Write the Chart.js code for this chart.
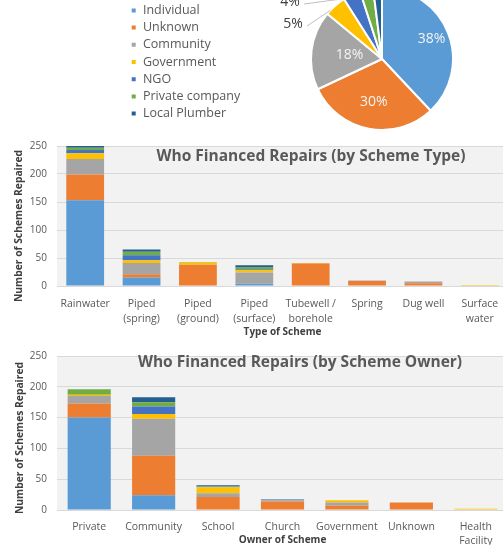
<!DOCTYPE html>
<html>
<head>
<meta charset="utf-8">
<script src="https://cdn.jsdelivr.net/npm/chart.js@4.4.1/dist/chart.umd.min.js"></script>
<style>
  html, body { margin: 0; padding: 0; background: #fff; }
  body { width: 503px; height: 545px; overflow: hidden; position: relative; }
  canvas { position: absolute; left: 0; }
  #pieChart { top: -12px; }
  #typeChart { top: 130px; }
  #ownerChart { top: 340px; }
</style>
</head>
<body>
<canvas id="pieChart" width="516" height="142"></canvas>
<canvas id="typeChart" width="508" height="212"></canvas>
<canvas id="ownerChart" width="508" height="212"></canvas>
<script>
// who paid, same order in every chart (bottom of stack first)
const funders = ['Individual', 'Unknown', 'Community', 'Government', 'NGO', 'Private company', 'Local Plumber'];
const funderColors = ['#5B9BD5', '#ED7D31', '#A5A5A5', '#FFC000', '#4472C4', '#70AD47', '#255E91'];
const funderShare = [38, 30, 18, 5, 4, 3, 2];

const countTicks = [0, 50, 100, 150, 200, 250];

// by scheme type
const schemeTypes = ['Rainwater', ['Piped', '(spring)'], ['Piped', '(ground)'], ['Piped', '(surface)'],
  ['Tubewell /', 'borehole'], 'Spring', 'Dug well', ['Surface', 'water']];
const typeIndividual = [153, 15, 0, 4, 0, 0, 0, 0];
const typeUnknown    = [46, 6, 38, 0, 40, 9, 5, 0];
const typeCommunity  = [28, 20, 0, 20, 0, 1, 3, 0];
const typeGovernment = [10, 5, 4, 4, 1, 0, 0, 2];
const typeNGO        = [6, 9, 0, 2, 0, 0, 0, 0];
const typePrivate    = [4, 6, 1, 4, 0, 0, 0, 0];
const typePlumber    = [3, 4, 0, 3, 0, 0, 0, 0];

// by scheme owner
const schemeOwners = ['Private', 'Community', 'School', 'Church', 'Government', 'Unknown', ['Health', 'Facility']];
const ownerIndividual = [150, 24, 0, 0, 0, 0, 0];
const ownerUnknown    = [23, 64, 21, 14, 7, 12, 0];
const ownerCommunity  = [12, 60, 6, 2, 5, 0, 0];
const ownerGovernment = [2, 8, 10, 0, 4, 0, 2];
const ownerNGO        = [0, 12, 1, 0, 0, 0, 0];
const ownerPrivate    = [9, 7, 1, 0, 0, 0, 0];
const ownerPlumber    = [0, 8, 1, 1, 0, 0, 0];

const FONT = "'Open Sans', sans-serif";
const GREY_TEXT = '#595959';

// grey fill behind the plot area
const plotBackground = {
  id: 'plotBackground',
  beforeDraw(chart, args, opts) {
    const { ctx, chartArea: a } = chart;
    ctx.save();
    ctx.fillStyle = opts.color;
    ctx.fillRect(a.left, a.top, a.width, a.height);
    ctx.restore();
  }
};

// chart title sitting inside the plot + rotated y title
const overlayText = {
  id: 'overlayText',
  afterDraw(chart, args, opts) {
    const { ctx } = chart;
    ctx.save();
    ctx.fillStyle = GREY_TEXT;
    ctx.textAlign = 'center';
    ctx.textBaseline = 'middle';
    ctx.font = 'bold 15.5px ' + FONT;
    ctx.fillText(opts.title, opts.titleX, opts.titleY);
    ctx.translate(opts.yTitleX, opts.yTitleY);
    ctx.rotate(-Math.PI / 2);
    ctx.fillStyle = '#404040';
    ctx.font = 'bold 10.3px ' + FONT;
    ctx.fillText(opts.yTitle, 0, 0);
    ctx.restore();
  }
};

// percentage labels on the pie
const pieLabels = {
  id: 'pieLabels',
  afterDatasetsDraw(chart, args, opts) {
    const { ctx } = chart;
    const total = funderShare.reduce((a, b) => a + b, 0);
    chart.getDatasetMeta(0).data.forEach((arc, i) => {
      const place = opts.places[i];
      if (!place) return;
      const p = arc.getProps(['x', 'y', 'startAngle', 'endAngle', 'outerRadius'], true);
      const text = Math.round(funderShare[i] / total * 100) + '%';
      ctx.save();
      ctx.font = '14px ' + FONT;
      ctx.textAlign = 'center';
      ctx.textBaseline = 'middle';
      if (place.inside) {
        const mid = (p.startAngle + p.endAngle) / 2;
        const r = p.outerRadius * place.inside;
        ctx.fillStyle = '#f4f4f4';
        ctx.fillText(text, p.x + Math.cos(mid) * r, p.y + Math.sin(mid) * r);
      } else {
        const a = p.startAngle + (p.endAngle - p.startAngle) * place.edge;
        const lx = p.x + place.dx, ly = p.y + place.dy;
        ctx.strokeStyle = '#bfbfbf';
        ctx.lineWidth = 1;
        ctx.beginPath();
        ctx.moveTo(lx + 14, ly + 2);
        ctx.lineTo(p.x + Math.cos(a) * p.outerRadius, p.y + Math.sin(a) * p.outerRadius);
        ctx.stroke();
        ctx.fillStyle = '#404040';
        ctx.fillText(text, lx, ly);
      }
      ctx.restore();
    });
  }
};

new Chart(document.getElementById('pieChart'), {
  type: 'pie',
  data: {
    labels: funders,
    datasets: [{
      data: funderShare,
      backgroundColor: funderColors,
      borderColor: '#ffffff',
      borderWidth: 2,
      radius: 71
    }]
  },
  options: {
    responsive: false,
    animation: false,
    layout: { padding: { left: 126, right: 0, top: 0, bottom: 0 } },
    plugins: {
      legend: {
        position: 'left',
        align: 'center',
        maxWidth: 122,
        // empty title only nudges the list down a little
        title: { display: true, text: '', padding: 0, font: { size: 6, lineHeight: 1 } },
        labels: {
          boxWidth: 6,
          boxHeight: 6,
          padding: 4.7,
          color: GREY_TEXT,
          font: { family: FONT, size: 12.5 }
        }
      },
      tooltip: { enabled: false },
      pieLabels: {
        places: [
          { inside: 0.75 },
          { inside: 0.62 },
          { inside: 0.46 },
          { dx: -89, dy: -35, edge: 0.2 },
          { dx: -92, dy: -57, edge: 0.05 }
        ]
      }
    }
  },
  plugins: [pieLabels]
});

function stackedBars(canvasId, categories, series, cfg) {
  return new Chart(document.getElementById(canvasId), {
    type: 'bar',
    data: {
      labels: categories,
      datasets: series.map((values, i) => ({
        label: funders[i],
        data: values,
        backgroundColor: funderColors[i],
        borderWidth: 0,
        categoryPercentage: 1,
        barPercentage: 0.67
      }))
    },
    options: {
      responsive: false,
      animation: false,
      layout: { padding: { left: 0, right: 0, top: cfg.padTop, bottom: 0 } },
      scales: {
        x: {
          stacked: true,
          grid: { display: false },
          border: { display: false },
          ticks: {
            color: GREY_TEXT,
            padding: 2,
            maxRotation: 0,
            autoSkip: false,
            font: { family: FONT, size: 10.5, lineHeight: cfg.tickLine }
          },
          title: {
            display: true,
            text: cfg.xTitle,
            color: '#404040',
            font: { family: FONT, size: 10, weight: 'bold', lineHeight: 1.2 },
            padding: { top: 0, bottom: cfg.xTitlePad }
          },
          afterFit: s => { s.height = cfg.xHeight; }
        },
        y: {
          stacked: true,
          min: 0,
          max: 250,
          grid: { color: '#d9d9d9', drawTicks: false },
          border: { display: false },
          ticks: {
            color: GREY_TEXT,
            padding: 10,
            font: { family: FONT, size: 10 }
          },
          afterBuildTicks: s => { s.ticks = countTicks.map(v => ({ value: v })); },
          afterFit: s => { s.width = 57; }
        }
      },
      plugins: {
        legend: { display: false },
        tooltip: { enabled: false },
        plotBackground: { color: '#f2f2f2' },
        overlayText: cfg.overlay
      }
    },
    plugins: [plotBackground, overlayText]
  });
}

stackedBars('typeChart', schemeTypes,
  [typeIndividual, typeUnknown, typeCommunity, typeGovernment, typeNGO, typePrivate, typePlumber], {
    padTop: 9,
    xHeight: 56,
    tickLine: 1.45,
    xTitle: 'Type of Scheme',
    xTitlePad: 4,
    overlay: {
      title: 'Who Financed Repairs (by Scheme Type)', titleX: 311, titleY: 27,
      yTitle: 'Number of Schemes Repaired', yTitleX: 19, yTitleY: 96
    }
  });

stackedBars('ownerChart', schemeOwners,
  [ownerIndividual, ownerUnknown, ownerCommunity, ownerGovernment, ownerNGO, ownerPrivate, ownerPlumber], {
    padTop: 8,
    xHeight: 42,
    tickLine: 1.33,
    xTitle: 'Owner of Scheme',
    xTitlePad: 6,
    overlay: {
      title: 'Who Financed Repairs (by Scheme Owner)', titleX: 300, titleY: 23,
      yTitle: 'Number of Schemes Repaired', yTitleX: 20, yTitleY: 98
    }
  });
</script>
</body>
</html>
